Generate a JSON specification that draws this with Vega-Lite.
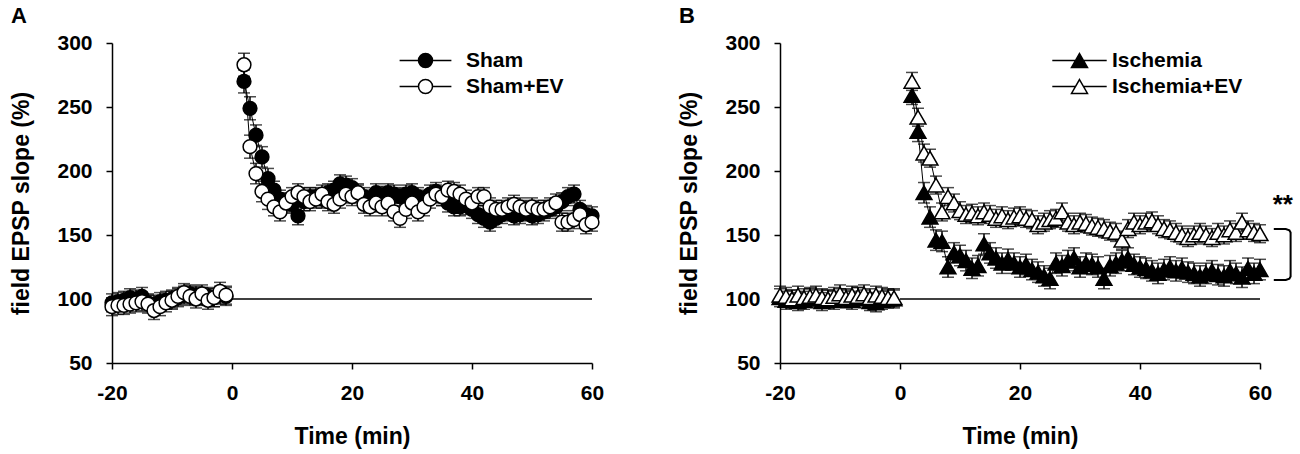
{
  "$schema": "https://vega.github.io/schema/vega-lite/v6.json",
  "background": "white",
  "padding": {"left": 10, "top": 5, "right": 5, "bottom": 5},
  "spacing": 74,
  "resolve": {"scale": {"fill": "independent"}, "legend": {"fill": "independent"}},
  "config": {
    "view": {"stroke": null},
    "font": "Liberation Sans",
    "axis": {"grid": false, "domainColor": "black", "domainWidth": 1.5, "tickColor": "black", "tickWidth": 1.5, "tickSize": 6, "labelFont": "Liberation Sans", "labelFontSize": 21, "labelFontWeight": "bold", "labelColor": "black", "titleFont": "Liberation Sans", "titleFontSize": 23, "titleFontWeight": "bold", "titleColor": "black", "labelFlush": false},
    "axisX": {"labelPadding": 13, "titlePadding": 22},
    "axisY": {"labelPadding": 14, "titlePadding": 23},
    "title": {"fontSize": 22, "fontWeight": "bold", "anchor": "start", "frame": "bounds", "color": "black", "offset": 4, "font": "Liberation Sans"}
  },
  "datasets": {
    "A": [
      {"s":"Sham","p":"b","t":-20,"v":97,"e":7},{"s":"Sham","p":"b","t":-19,"v":98,"e":7},{"s":"Sham","p":"b","t":-18,"v":99,"e":7},{"s":"Sham","p":"b","t":-17,"v":101,"e":7},{"s":"Sham","p":"b","t":-16,"v":100,"e":7},{"s":"Sham","p":"b","t":-15,"v":102,"e":7},{"s":"Sham","p":"b","t":-14,"v":97,"e":7},{"s":"Sham","p":"b","t":-13,"v":96,"e":7},{"s":"Sham","p":"b","t":-12,"v":98,"e":7},{"s":"Sham","p":"b","t":-11,"v":99,"e":7},{"s":"Sham","p":"b","t":-10,"v":100,"e":7},{"s":"Sham","p":"b","t":-9,"v":101,"e":7},{"s":"Sham","p":"b","t":-8,"v":103,"e":7},{"s":"Sham","p":"b","t":-7,"v":104,"e":7},{"s":"Sham","p":"b","t":-6,"v":103,"e":7},{"s":"Sham","p":"b","t":-5,"v":102,"e":7},{"s":"Sham","p":"b","t":-4,"v":102,"e":7},{"s":"Sham","p":"b","t":-3,"v":101,"e":7},{"s":"Sham","p":"b","t":-2,"v":103,"e":7},{"s":"Sham","p":"b","t":-1,"v":102,"e":7},
      {"s":"Sham","p":"a","t":2,"v":270,"e":9},{"s":"Sham","p":"a","t":3,"v":249,"e":9},{"s":"Sham","p":"a","t":4,"v":228,"e":8},{"s":"Sham","p":"a","t":5,"v":211,"e":8},{"s":"Sham","p":"a","t":6,"v":194,"e":8},{"s":"Sham","p":"a","t":7,"v":185,"e":7},{"s":"Sham","p":"a","t":8,"v":178,"e":7},{"s":"Sham","p":"a","t":9,"v":176,"e":7},{"s":"Sham","p":"a","t":10,"v":174,"e":7},{"s":"Sham","p":"a","t":11,"v":165,"e":7},{"s":"Sham","p":"a","t":12,"v":176,"e":7},{"s":"Sham","p":"a","t":13,"v":180,"e":7},{"s":"Sham","p":"a","t":14,"v":180,"e":7},{"s":"Sham","p":"a","t":15,"v":178,"e":7},{"s":"Sham","p":"a","t":16,"v":183,"e":7},{"s":"Sham","p":"a","t":17,"v":185,"e":7},{"s":"Sham","p":"a","t":18,"v":190,"e":7},{"s":"Sham","p":"a","t":19,"v":189,"e":7},{"s":"Sham","p":"a","t":20,"v":187,"e":7},{"s":"Sham","p":"a","t":21,"v":182,"e":7},{"s":"Sham","p":"a","t":22,"v":180,"e":7},{"s":"Sham","p":"a","t":23,"v":178,"e":7},{"s":"Sham","p":"a","t":24,"v":183,"e":7},{"s":"Sham","p":"a","t":25,"v":181,"e":7},{"s":"Sham","p":"a","t":26,"v":183,"e":7},{"s":"Sham","p":"a","t":27,"v":182,"e":7},{"s":"Sham","p":"a","t":28,"v":180,"e":7},{"s":"Sham","p":"a","t":29,"v":182,"e":7},{"s":"Sham","p":"a","t":30,"v":183,"e":7},{"s":"Sham","p":"a","t":31,"v":180,"e":7},{"s":"Sham","p":"a","t":32,"v":178,"e":7},{"s":"Sham","p":"a","t":33,"v":182,"e":7},{"s":"Sham","p":"a","t":34,"v":184,"e":7},{"s":"Sham","p":"a","t":35,"v":180,"e":7},{"s":"Sham","p":"a","t":36,"v":175,"e":7},{"s":"Sham","p":"a","t":37,"v":172,"e":7},{"s":"Sham","p":"a","t":38,"v":172,"e":7},{"s":"Sham","p":"a","t":39,"v":173,"e":7},{"s":"Sham","p":"a","t":40,"v":170,"e":7},{"s":"Sham","p":"a","t":41,"v":166,"e":7},{"s":"Sham","p":"a","t":42,"v":163,"e":7},{"s":"Sham","p":"a","t":43,"v":160,"e":7},{"s":"Sham","p":"a","t":44,"v":163,"e":7},{"s":"Sham","p":"a","t":45,"v":166,"e":7},{"s":"Sham","p":"a","t":46,"v":168,"e":7},{"s":"Sham","p":"a","t":47,"v":165,"e":7},{"s":"Sham","p":"a","t":48,"v":166,"e":7},{"s":"Sham","p":"a","t":49,"v":168,"e":7},{"s":"Sham","p":"a","t":50,"v":165,"e":7},{"s":"Sham","p":"a","t":51,"v":166,"e":7},{"s":"Sham","p":"a","t":52,"v":168,"e":7},{"s":"Sham","p":"a","t":53,"v":170,"e":7},{"s":"Sham","p":"a","t":54,"v":172,"e":7},{"s":"Sham","p":"a","t":55,"v":176,"e":7},{"s":"Sham","p":"a","t":56,"v":180,"e":7},{"s":"Sham","p":"a","t":57,"v":182,"e":7},{"s":"Sham","p":"a","t":58,"v":170,"e":7},{"s":"Sham","p":"a","t":59,"v":166,"e":7},{"s":"Sham","p":"a","t":60,"v":165,"e":7},
      {"s":"Sham+EV","p":"b","t":-20,"v":94,"e":7},{"s":"Sham+EV","p":"b","t":-19,"v":95,"e":7},{"s":"Sham+EV","p":"b","t":-18,"v":95,"e":7},{"s":"Sham+EV","p":"b","t":-17,"v":96,"e":7},{"s":"Sham+EV","p":"b","t":-16,"v":97,"e":7},{"s":"Sham+EV","p":"b","t":-15,"v":98,"e":7},{"s":"Sham+EV","p":"b","t":-14,"v":96,"e":7},{"s":"Sham+EV","p":"b","t":-13,"v":91,"e":7},{"s":"Sham+EV","p":"b","t":-12,"v":94,"e":7},{"s":"Sham+EV","p":"b","t":-11,"v":97,"e":7},{"s":"Sham+EV","p":"b","t":-10,"v":99,"e":7},{"s":"Sham+EV","p":"b","t":-9,"v":102,"e":7},{"s":"Sham+EV","p":"b","t":-8,"v":105,"e":7},{"s":"Sham+EV","p":"b","t":-7,"v":102,"e":7},{"s":"Sham+EV","p":"b","t":-6,"v":100,"e":7},{"s":"Sham+EV","p":"b","t":-5,"v":104,"e":7},{"s":"Sham+EV","p":"b","t":-4,"v":99,"e":7},{"s":"Sham+EV","p":"b","t":-3,"v":101,"e":7},{"s":"Sham+EV","p":"b","t":-2,"v":106,"e":7},{"s":"Sham+EV","p":"b","t":-1,"v":103,"e":7},
      {"s":"Sham+EV","p":"a","t":2,"v":283,"e":9},{"s":"Sham+EV","p":"a","t":3,"v":219,"e":9},{"s":"Sham+EV","p":"a","t":4,"v":198,"e":8},{"s":"Sham+EV","p":"a","t":5,"v":184,"e":8},{"s":"Sham+EV","p":"a","t":6,"v":178,"e":8},{"s":"Sham+EV","p":"a","t":7,"v":172,"e":7},{"s":"Sham+EV","p":"a","t":8,"v":168,"e":7},{"s":"Sham+EV","p":"a","t":9,"v":175,"e":7},{"s":"Sham+EV","p":"a","t":10,"v":180,"e":7},{"s":"Sham+EV","p":"a","t":11,"v":183,"e":7},{"s":"Sham+EV","p":"a","t":12,"v":180,"e":7},{"s":"Sham+EV","p":"a","t":13,"v":176,"e":7},{"s":"Sham+EV","p":"a","t":14,"v":178,"e":7},{"s":"Sham+EV","p":"a","t":15,"v":182,"e":7},{"s":"Sham+EV","p":"a","t":16,"v":176,"e":7},{"s":"Sham+EV","p":"a","t":17,"v":174,"e":7},{"s":"Sham+EV","p":"a","t":18,"v":178,"e":7},{"s":"Sham+EV","p":"a","t":19,"v":182,"e":7},{"s":"Sham+EV","p":"a","t":20,"v":180,"e":7},{"s":"Sham+EV","p":"a","t":21,"v":183,"e":7},{"s":"Sham+EV","p":"a","t":22,"v":174,"e":7},{"s":"Sham+EV","p":"a","t":23,"v":172,"e":7},{"s":"Sham+EV","p":"a","t":24,"v":175,"e":7},{"s":"Sham+EV","p":"a","t":25,"v":172,"e":7},{"s":"Sham+EV","p":"a","t":26,"v":175,"e":7},{"s":"Sham+EV","p":"a","t":27,"v":168,"e":7},{"s":"Sham+EV","p":"a","t":28,"v":163,"e":7},{"s":"Sham+EV","p":"a","t":29,"v":170,"e":7},{"s":"Sham+EV","p":"a","t":30,"v":175,"e":7},{"s":"Sham+EV","p":"a","t":31,"v":168,"e":7},{"s":"Sham+EV","p":"a","t":32,"v":172,"e":7},{"s":"Sham+EV","p":"a","t":33,"v":178,"e":7},{"s":"Sham+EV","p":"a","t":34,"v":182,"e":7},{"s":"Sham+EV","p":"a","t":35,"v":180,"e":7},{"s":"Sham+EV","p":"a","t":36,"v":185,"e":7},{"s":"Sham+EV","p":"a","t":37,"v":184,"e":7},{"s":"Sham+EV","p":"a","t":38,"v":182,"e":7},{"s":"Sham+EV","p":"a","t":39,"v":178,"e":7},{"s":"Sham+EV","p":"a","t":40,"v":175,"e":7},{"s":"Sham+EV","p":"a","t":41,"v":180,"e":7},{"s":"Sham+EV","p":"a","t":42,"v":180,"e":7},{"s":"Sham+EV","p":"a","t":43,"v":172,"e":7},{"s":"Sham+EV","p":"a","t":44,"v":170,"e":7},{"s":"Sham+EV","p":"a","t":45,"v":170,"e":7},{"s":"Sham+EV","p":"a","t":46,"v":172,"e":7},{"s":"Sham+EV","p":"a","t":47,"v":174,"e":7},{"s":"Sham+EV","p":"a","t":48,"v":172,"e":7},{"s":"Sham+EV","p":"a","t":49,"v":170,"e":7},{"s":"Sham+EV","p":"a","t":50,"v":172,"e":7},{"s":"Sham+EV","p":"a","t":51,"v":170,"e":7},{"s":"Sham+EV","p":"a","t":52,"v":170,"e":7},{"s":"Sham+EV","p":"a","t":53,"v":172,"e":7},{"s":"Sham+EV","p":"a","t":54,"v":175,"e":7},{"s":"Sham+EV","p":"a","t":55,"v":160,"e":7},{"s":"Sham+EV","p":"a","t":56,"v":160,"e":7},{"s":"Sham+EV","p":"a","t":57,"v":162,"e":7},{"s":"Sham+EV","p":"a","t":58,"v":166,"e":7},{"s":"Sham+EV","p":"a","t":59,"v":158,"e":7},{"s":"Sham+EV","p":"a","t":60,"v":160,"e":7}
    ],
    "B": [
      {"s":"Ischemia","p":"b","t":-20,"v":101,"e":7},{"s":"Ischemia","p":"b","t":-19,"v":99,"e":7},{"s":"Ischemia","p":"b","t":-18,"v":100,"e":7},{"s":"Ischemia","p":"b","t":-17,"v":98,"e":7},{"s":"Ischemia","p":"b","t":-16,"v":99,"e":7},{"s":"Ischemia","p":"b","t":-15,"v":101,"e":7},{"s":"Ischemia","p":"b","t":-14,"v":100,"e":7},{"s":"Ischemia","p":"b","t":-13,"v":98,"e":7},{"s":"Ischemia","p":"b","t":-12,"v":100,"e":7},{"s":"Ischemia","p":"b","t":-11,"v":99,"e":7},{"s":"Ischemia","p":"b","t":-10,"v":101,"e":7},{"s":"Ischemia","p":"b","t":-9,"v":100,"e":7},{"s":"Ischemia","p":"b","t":-8,"v":99,"e":7},{"s":"Ischemia","p":"b","t":-7,"v":102,"e":7},{"s":"Ischemia","p":"b","t":-6,"v":100,"e":7},{"s":"Ischemia","p":"b","t":-5,"v":98,"e":7},{"s":"Ischemia","p":"b","t":-4,"v":97,"e":7},{"s":"Ischemia","p":"b","t":-3,"v":99,"e":7},{"s":"Ischemia","p":"b","t":-2,"v":100,"e":7},{"s":"Ischemia","p":"b","t":-1,"v":100,"e":7},
      {"s":"Ischemia","p":"a","t":2,"v":259,"e":7},{"s":"Ischemia","p":"a","t":3,"v":231,"e":8},{"s":"Ischemia","p":"a","t":4,"v":183,"e":8},{"s":"Ischemia","p":"a","t":5,"v":164,"e":8},{"s":"Ischemia","p":"a","t":6,"v":146,"e":8},{"s":"Ischemia","p":"a","t":7,"v":145,"e":8},{"s":"Ischemia","p":"a","t":8,"v":125,"e":8},{"s":"Ischemia","p":"a","t":9,"v":136,"e":8},{"s":"Ischemia","p":"a","t":10,"v":134,"e":8},{"s":"Ischemia","p":"a","t":11,"v":130,"e":8},{"s":"Ischemia","p":"a","t":12,"v":124,"e":8},{"s":"Ischemia","p":"a","t":13,"v":126,"e":8},{"s":"Ischemia","p":"a","t":14,"v":143,"e":8},{"s":"Ischemia","p":"a","t":15,"v":136,"e":8},{"s":"Ischemia","p":"a","t":16,"v":132,"e":8},{"s":"Ischemia","p":"a","t":17,"v":128,"e":8},{"s":"Ischemia","p":"a","t":18,"v":131,"e":8},{"s":"Ischemia","p":"a","t":19,"v":128,"e":8},{"s":"Ischemia","p":"a","t":20,"v":125,"e":8},{"s":"Ischemia","p":"a","t":21,"v":127,"e":8},{"s":"Ischemia","p":"a","t":22,"v":123,"e":8},{"s":"Ischemia","p":"a","t":23,"v":121,"e":8},{"s":"Ischemia","p":"a","t":24,"v":118,"e":8},{"s":"Ischemia","p":"a","t":25,"v":116,"e":8},{"s":"Ischemia","p":"a","t":26,"v":128,"e":8},{"s":"Ischemia","p":"a","t":27,"v":126,"e":8},{"s":"Ischemia","p":"a","t":28,"v":130,"e":8},{"s":"Ischemia","p":"a","t":29,"v":132,"e":8},{"s":"Ischemia","p":"a","t":30,"v":125,"e":8},{"s":"Ischemia","p":"a","t":31,"v":128,"e":8},{"s":"Ischemia","p":"a","t":32,"v":127,"e":8},{"s":"Ischemia","p":"a","t":33,"v":125,"e":8},{"s":"Ischemia","p":"a","t":34,"v":116,"e":8},{"s":"Ischemia","p":"a","t":35,"v":126,"e":8},{"s":"Ischemia","p":"a","t":36,"v":128,"e":8},{"s":"Ischemia","p":"a","t":37,"v":130,"e":8},{"s":"Ischemia","p":"a","t":38,"v":132,"e":8},{"s":"Ischemia","p":"a","t":39,"v":127,"e":8},{"s":"Ischemia","p":"a","t":40,"v":125,"e":8},{"s":"Ischemia","p":"a","t":41,"v":124,"e":8},{"s":"Ischemia","p":"a","t":42,"v":122,"e":8},{"s":"Ischemia","p":"a","t":43,"v":120,"e":8},{"s":"Ischemia","p":"a","t":44,"v":123,"e":8},{"s":"Ischemia","p":"a","t":45,"v":125,"e":8},{"s":"Ischemia","p":"a","t":46,"v":122,"e":8},{"s":"Ischemia","p":"a","t":47,"v":124,"e":8},{"s":"Ischemia","p":"a","t":48,"v":121,"e":8},{"s":"Ischemia","p":"a","t":49,"v":120,"e":8},{"s":"Ischemia","p":"a","t":50,"v":118,"e":8},{"s":"Ischemia","p":"a","t":51,"v":120,"e":8},{"s":"Ischemia","p":"a","t":52,"v":122,"e":8},{"s":"Ischemia","p":"a","t":53,"v":119,"e":8},{"s":"Ischemia","p":"a","t":54,"v":118,"e":8},{"s":"Ischemia","p":"a","t":55,"v":122,"e":8},{"s":"Ischemia","p":"a","t":56,"v":120,"e":8},{"s":"Ischemia","p":"a","t":57,"v":117,"e":8},{"s":"Ischemia","p":"a","t":58,"v":124,"e":8},{"s":"Ischemia","p":"a","t":59,"v":120,"e":8},{"s":"Ischemia","p":"a","t":60,"v":123,"e":8},
      {"s":"Ischemia+EV","p":"b","t":-20,"v":103,"e":7},{"s":"Ischemia+EV","p":"b","t":-19,"v":102,"e":7},{"s":"Ischemia+EV","p":"b","t":-18,"v":100,"e":7},{"s":"Ischemia+EV","p":"b","t":-17,"v":103,"e":7},{"s":"Ischemia+EV","p":"b","t":-16,"v":101,"e":7},{"s":"Ischemia+EV","p":"b","t":-15,"v":102,"e":7},{"s":"Ischemia+EV","p":"b","t":-14,"v":103,"e":7},{"s":"Ischemia+EV","p":"b","t":-13,"v":101,"e":7},{"s":"Ischemia+EV","p":"b","t":-12,"v":100,"e":7},{"s":"Ischemia+EV","p":"b","t":-11,"v":102,"e":7},{"s":"Ischemia+EV","p":"b","t":-10,"v":104,"e":7},{"s":"Ischemia+EV","p":"b","t":-9,"v":101,"e":7},{"s":"Ischemia+EV","p":"b","t":-8,"v":103,"e":7},{"s":"Ischemia+EV","p":"b","t":-7,"v":102,"e":7},{"s":"Ischemia+EV","p":"b","t":-6,"v":104,"e":7},{"s":"Ischemia+EV","p":"b","t":-5,"v":101,"e":7},{"s":"Ischemia+EV","p":"b","t":-4,"v":103,"e":7},{"s":"Ischemia+EV","p":"b","t":-3,"v":102,"e":7},{"s":"Ischemia+EV","p":"b","t":-2,"v":101,"e":7},{"s":"Ischemia+EV","p":"b","t":-1,"v":101,"e":7},
      {"s":"Ischemia+EV","p":"a","t":2,"v":270,"e":7},{"s":"Ischemia+EV","p":"a","t":3,"v":242,"e":7},{"s":"Ischemia+EV","p":"a","t":4,"v":214,"e":7},{"s":"Ischemia+EV","p":"a","t":5,"v":210,"e":7},{"s":"Ischemia+EV","p":"a","t":6,"v":189,"e":7},{"s":"Ischemia+EV","p":"a","t":7,"v":168,"e":7},{"s":"Ischemia+EV","p":"a","t":8,"v":180,"e":7},{"s":"Ischemia+EV","p":"a","t":9,"v":175,"e":7},{"s":"Ischemia+EV","p":"a","t":10,"v":169,"e":7},{"s":"Ischemia+EV","p":"a","t":11,"v":166,"e":7},{"s":"Ischemia+EV","p":"a","t":12,"v":167,"e":7},{"s":"Ischemia+EV","p":"a","t":13,"v":165,"e":7},{"s":"Ischemia+EV","p":"a","t":14,"v":168,"e":7},{"s":"Ischemia+EV","p":"a","t":15,"v":166,"e":7},{"s":"Ischemia+EV","p":"a","t":16,"v":163,"e":7},{"s":"Ischemia+EV","p":"a","t":17,"v":165,"e":7},{"s":"Ischemia+EV","p":"a","t":18,"v":162,"e":7},{"s":"Ischemia+EV","p":"a","t":19,"v":164,"e":7},{"s":"Ischemia+EV","p":"a","t":20,"v":165,"e":7},{"s":"Ischemia+EV","p":"a","t":21,"v":163,"e":7},{"s":"Ischemia+EV","p":"a","t":22,"v":162,"e":7},{"s":"Ischemia+EV","p":"a","t":23,"v":158,"e":7},{"s":"Ischemia+EV","p":"a","t":24,"v":160,"e":7},{"s":"Ischemia+EV","p":"a","t":25,"v":162,"e":7},{"s":"Ischemia+EV","p":"a","t":26,"v":163,"e":7},{"s":"Ischemia+EV","p":"a","t":27,"v":168,"e":7},{"s":"Ischemia+EV","p":"a","t":28,"v":160,"e":7},{"s":"Ischemia+EV","p":"a","t":29,"v":158,"e":7},{"s":"Ischemia+EV","p":"a","t":30,"v":160,"e":7},{"s":"Ischemia+EV","p":"a","t":31,"v":159,"e":7},{"s":"Ischemia+EV","p":"a","t":32,"v":157,"e":7},{"s":"Ischemia+EV","p":"a","t":33,"v":156,"e":7},{"s":"Ischemia+EV","p":"a","t":34,"v":155,"e":7},{"s":"Ischemia+EV","p":"a","t":35,"v":153,"e":7},{"s":"Ischemia+EV","p":"a","t":36,"v":152,"e":7},{"s":"Ischemia+EV","p":"a","t":37,"v":146,"e":7},{"s":"Ischemia+EV","p":"a","t":38,"v":155,"e":7},{"s":"Ischemia+EV","p":"a","t":39,"v":160,"e":7},{"s":"Ischemia+EV","p":"a","t":40,"v":158,"e":7},{"s":"Ischemia+EV","p":"a","t":41,"v":160,"e":7},{"s":"Ischemia+EV","p":"a","t":42,"v":161,"e":7},{"s":"Ischemia+EV","p":"a","t":43,"v":158,"e":7},{"s":"Ischemia+EV","p":"a","t":44,"v":155,"e":7},{"s":"Ischemia+EV","p":"a","t":45,"v":154,"e":7},{"s":"Ischemia+EV","p":"a","t":46,"v":152,"e":7},{"s":"Ischemia+EV","p":"a","t":47,"v":150,"e":7},{"s":"Ischemia+EV","p":"a","t":48,"v":148,"e":7},{"s":"Ischemia+EV","p":"a","t":49,"v":150,"e":7},{"s":"Ischemia+EV","p":"a","t":50,"v":152,"e":7},{"s":"Ischemia+EV","p":"a","t":51,"v":150,"e":7},{"s":"Ischemia+EV","p":"a","t":52,"v":148,"e":7},{"s":"Ischemia+EV","p":"a","t":53,"v":152,"e":7},{"s":"Ischemia+EV","p":"a","t":54,"v":150,"e":7},{"s":"Ischemia+EV","p":"a","t":55,"v":154,"e":7},{"s":"Ischemia+EV","p":"a","t":56,"v":152,"e":7},{"s":"Ischemia+EV","p":"a","t":57,"v":160,"e":7},{"s":"Ischemia+EV","p":"a","t":58,"v":154,"e":7},{"s":"Ischemia+EV","p":"a","t":59,"v":152,"e":7},{"s":"Ischemia+EV","p":"a","t":60,"v":151,"e":7}
    ]
  },
  "hconcat": [
    {
      "title": {"text": "A"},
      "width": 480,
      "height": 320,
      "encoding": {
        "x": {"field": "t", "type": "quantitative", "scale": {"domain": [-20, 60], "nice": false, "zero": false, "padding": 0}, "axis": {"values": [-20, 0, 20, 40, 60], "labelExpr": "'' + datum.value", "title": "Time (min)"}},
        "y": {"field": "v", "type": "quantitative", "scale": {"domain": [50, 300], "nice": false, "zero": false, "padding": 0}, "axis": {"values": [50, 100, 150, 200, 250, 300], "title": "field EPSP slope (%)"}}
      },
      "layer": [
        {"data": {"values": [{"t": 0, "t1": 60, "v": 100}]}, "mark": {"type": "rule", "color": "black", "strokeWidth": 1.4}, "encoding": {"x2": {"field": "t1"}}},
        {"data": {"name": "A"}, "mark": {"type": "errorbar", "ticks": {"size": 12}, "color": "black", "thickness": 1.5}, "encoding": {"yError": {"field": "e"}}},
        {"data": {"name": "A"}, "mark": {"type": "line", "color": "black", "strokeWidth": 1}, "encoding": {"detail": [{"field": "s"}, {"field": "p"}]}},
        {"data": {"name": "A"}, "mark": {"type": "point", "shape": "circle", "filled": true, "size": 190, "stroke": "black", "strokeWidth": 1.5, "opacity": 1},
         "encoding": {"fill": {"field": "s", "type": "nominal", "scale": {"domain": ["Sham", "Sham+EV"], "range": ["black", "white"]},
           "legend": {"title": null, "orient": "none", "legendX": 303, "legendY": 7, "padding": 0, "symbolType": "M-3.7,0H-1M1,0H3.7M-1,0A1,1,0,1,0,1,0A1,1,0,1,0,-1,0", "symbolSize": 196, "symbolStrokeColor": "black", "symbolStrokeWidth": 1.5, "symbolOpacity": 1, "labelFont": "Liberation Sans", "labelFontSize": 21, "labelFontWeight": "bold", "labelColor": "black", "labelOffset": 30, "rowPadding": 4}}}}
      ]
    },
    {
      "title": {"text": "B"},
      "width": 480,
      "height": 320,
      "encoding": {
        "x": {"field": "t", "type": "quantitative", "scale": {"domain": [-20, 60], "nice": false, "zero": false, "padding": 0}, "axis": {"values": [-20, 0, 20, 40, 60], "labelExpr": "'' + datum.value", "title": "Time (min)"}},
        "y": {"field": "v", "type": "quantitative", "scale": {"domain": [50, 300], "nice": false, "zero": false, "padding": 0}, "axis": {"values": [50, 100, 150, 200, 250, 300], "title": "field EPSP slope (%)"}}
      },
      "layer": [
        {"data": {"values": [{"t": 0, "t1": 60, "v": 100}]}, "mark": {"type": "rule", "color": "black", "strokeWidth": 1.4}, "encoding": {"x2": {"field": "t1"}}},
        {"data": {"name": "B"}, "mark": {"type": "errorbar", "ticks": {"size": 12}, "color": "black", "thickness": 1.5}, "encoding": {"yError": {"field": "e"}}},
        {"data": {"name": "B"}, "mark": {"type": "line", "color": "black", "strokeWidth": 1}, "encoding": {"detail": [{"field": "s"}, {"field": "p"}]}},
        {"data": {"name": "B"}, "mark": {"type": "point", "shape": "triangle-up", "filled": true, "size": 250, "stroke": "black", "strokeWidth": 1.5, "opacity": 1},
         "encoding": {"fill": {"field": "s", "type": "nominal", "scale": {"domain": ["Ischemia", "Ischemia+EV"], "range": ["black", "white"]},
           "legend": {"title": null, "orient": "none", "legendX": 289, "legendY": 7, "padding": 0, "symbolType": "M-3.4,0H-0.5M0.5,0H3.4M0,-0.87L1,0.87H-1Z", "symbolSize": 256, "symbolStrokeColor": "black", "symbolStrokeWidth": 1.5, "symbolOpacity": 1, "labelFont": "Liberation Sans", "labelFontSize": 21, "labelFontWeight": "bold", "labelColor": "black", "labelOffset": 22, "rowPadding": 4}}}},
        {"data": {"values": [{"t": 62.3, "v": 154.6, "o": 1}, {"t": 64.3, "v": 154.6, "o": 2}, {"t": 64.9, "v": 153.6, "o": 3}, {"t": 65.1, "v": 152, "o": 4}, {"t": 65.1, "v": 117.5, "o": 5}, {"t": 64.9, "v": 115.8, "o": 6}, {"t": 64.3, "v": 114.8, "o": 7}, {"t": 62.3, "v": 114.8, "o": 8}]},
         "mark": {"type": "line", "color": "black", "strokeWidth": 2}, "encoding": {"order": {"field": "o", "type": "quantitative"}}},
        {"data": {"values": [{"t": 63.8, "v": 177, "label": "**"}]},
         "mark": {"type": "text", "fontSize": 26, "fontWeight": "bold", "font": "Liberation Sans", "color": "black", "baseline": "middle", "align": "center", "dy": 5},
         "encoding": {"text": {"field": "label"}}}
      ]
    }
  ]
}
